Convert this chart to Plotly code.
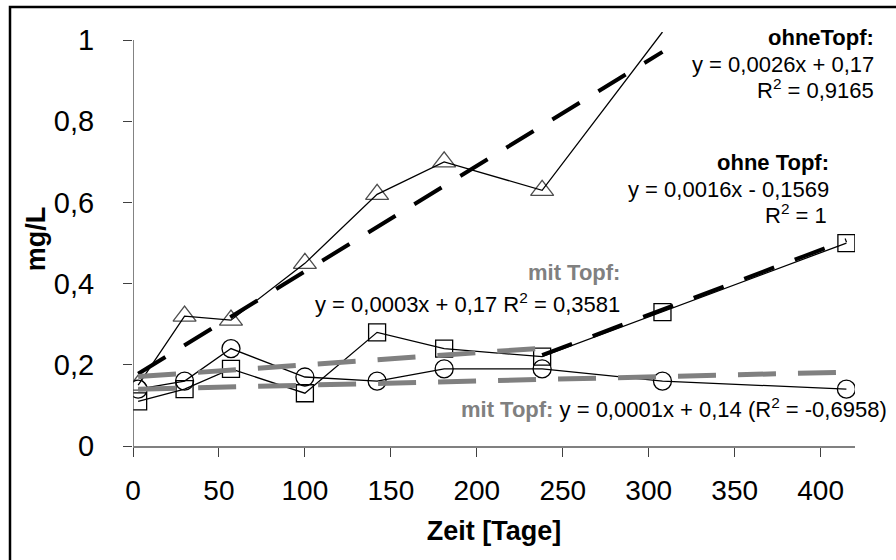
import plotly.graph_objects as go

# ---- data ----
days = [3, 30, 57, 100, 142, 181, 238, 308, 415]
triangles_ohne_topf = [0.15, 0.32, 0.31, 0.45, 0.62, 0.70, 0.63, 1.02]   # days[:8]
squares_wechsel = [0.11, 0.14, 0.19, 0.13, 0.28, 0.24, 0.22, 0.33, 0.50]
circles_mit_topf = [0.14, 0.16, 0.24, 0.17, 0.16, 0.19, 0.19, 0.16, 0.14]

trend_ohne1_x = [3, 308]
trend_ohne1_y = [0.178, 0.971]
trend_ohne2_x = [238, 415]
trend_ohne2_y = [0.224, 0.507]
trend_mit1_x = [3, 238]
trend_mit1_y = [0.171, 0.241]
trend_mit2_x = [3, 415]
trend_mit2_y = [0.140, 0.182]

x_ticks = [0, 50, 100, 150, 200, 250, 300, 350, 400]
y_ticks = [0, 0.2, 0.4, 0.6, 0.8, 1.0]

# ---- layout geometry (pixels) ----
W, H = 896, 560
L, R, T, B = 133, 41, 32, 114
X_RANGE = [0, 420]
Y_RANGE = [0, 1.02]
PW, PH = W - L - R, H - T - B

def paper_x(p):
    return (p - L) / PW

def paper_y(p):
    return (H - B - p) / PH

FONT = "Liberation Sans, Arial, sans-serif"
GRAY = "#808080"

fig = go.Figure()

# data series
fig.add_trace(go.Scatter(
    x=days[:len(triangles_ohne_topf)], y=triangles_ohne_topf, name="ohne Topf",
    mode="lines+markers", line=dict(color="black", width=1.3),
    marker=dict(symbol="triangle-up-open", size=[20] * 7 + [0],
                color="black", line=dict(width=1.3, color="black"))))
fig.add_trace(go.Scatter(
    x=days, y=squares_wechsel, name="Topf-Wechsel",
    mode="lines+markers", line=dict(color="black", width=1.3),
    marker=dict(symbol="square-open", size=17, color="black",
                line=dict(width=1.3, color="black"))))
fig.add_trace(go.Scatter(
    x=days, y=circles_mit_topf, name="mit Topf",
    mode="lines+markers", line=dict(color="black", width=1.3),
    marker=dict(symbol="circle-open", size=18, color="black",
                line=dict(width=1.3, color="black"))))

# trend lines
dash_black = "32px,22px"
dash_gray = "38px,22px"
fig.add_trace(go.Scatter(x=trend_ohne1_x, y=trend_ohne1_y, mode="lines",
                         line=dict(color="black", width=4, dash=dash_black),
                         name="Trend ohneTopf"))
fig.add_trace(go.Scatter(x=trend_ohne2_x, y=trend_ohne2_y, mode="lines",
                         line=dict(color="black", width=4, dash=dash_black),
                         name="Trend ohne Topf"))
fig.add_trace(go.Scatter(x=trend_mit1_x, y=trend_mit1_y, mode="lines",
                         line=dict(color=GRAY, width=5, dash=dash_gray),
                         name="Trend mit Topf (1)"))
fig.add_trace(go.Scatter(x=trend_mit2_x, y=trend_mit2_y, mode="lines",
                         line=dict(color=GRAY, width=5, dash=dash_gray),
                         name="Trend mit Topf (2)"))

AF = 22
def ann(text, px, py, xanchor="right", color="black", bold=False):
    if bold:
        text = "<b>" + text + "</b>"
    return dict(text=text, x=paper_x(px), y=paper_y(py), xref="paper", yref="paper",
                xanchor=xanchor, yanchor="middle", showarrow=False,
                font=dict(family=FONT, size=AF, color=color))

annotations = [
    ann("ohneTopf:", 876, 38, bold=True),
    ann("y = 0,0026x + 0,17", 876, 64),
    ann("R<sup>2</sup> = 0,9165", 876, 89),
    ann("ohne Topf:", 831, 163, bold=True),
    ann("y = 0,0016x - 0,1569", 831, 189),
    ann("R<sup>2</sup> = 1", 829, 214),
    ann("mit Topf:", 622, 272, color=GRAY, bold=True),
    ann("y = 0,0003x + 0,17 R<sup>2</sup> = 0,3581", 622, 303),
    ann("<span style='color:#808080'><b>mit Topf:</b></span> y = 0,0001x + 0,14 (R<sup>2</sup> = -0,6958)",
        459, 408, xanchor="left"),
]

shapes = [
    # y axis line (from 0 to 1 only)
    dict(type="line", xref="x", yref="y", x0=0, x1=0, y0=0, y1=1,
         line=dict(color="#404040", width=1.3)),
    # outer chart border (only left/top visible in the crop)
    dict(type="rect", xref="paper", yref="paper",
         x0=paper_x(10), x1=paper_x(W + 40),
         y0=paper_y(H + 40), y1=paper_y(7),
         line=dict(color="black", width=2.5), fillcolor="rgba(0,0,0,0)"),
]

fig.update_layout(
    width=W, height=H,
    margin=dict(l=L, r=R, t=T, b=B, pad=0),
    paper_bgcolor="white", plot_bgcolor="white",
    showlegend=False,
    separators=", ",
    font=dict(family=FONT, color="black"),
    annotations=annotations,
    shapes=shapes,
    xaxis=dict(range=X_RANGE, tickvals=x_ticks, ticks="outside", ticklen=9,
               tickwidth=1.3, tickcolor="#404040", showline=True,
               linecolor="#808080", linewidth=1.5, showgrid=False, zeroline=False,
               tickfont=dict(size=28, family=FONT), ticklabelstandoff=10,
               automargin=False,
               title=dict(text="<b>Zeit [Tage]</b>", font=dict(size=27, family=FONT),
                          standoff=16)),
    yaxis=dict(range=Y_RANGE, tickvals=y_ticks, ticks="outside", ticklen=9,
               tickwidth=1.3, tickcolor="#404040", showline=False,
               showgrid=False, zeroline=False, automargin=False,
               tickfont=dict(size=29, family=FONT), ticklabelstandoff=23,
               title=dict(text="<b>mg/L</b>", font=dict(size=27, family=FONT),
                          standoff=0)),
)

fig.write_html("out.html", config={"displayModeBar": False},
               post_script="document.body.style.margin='0';")
